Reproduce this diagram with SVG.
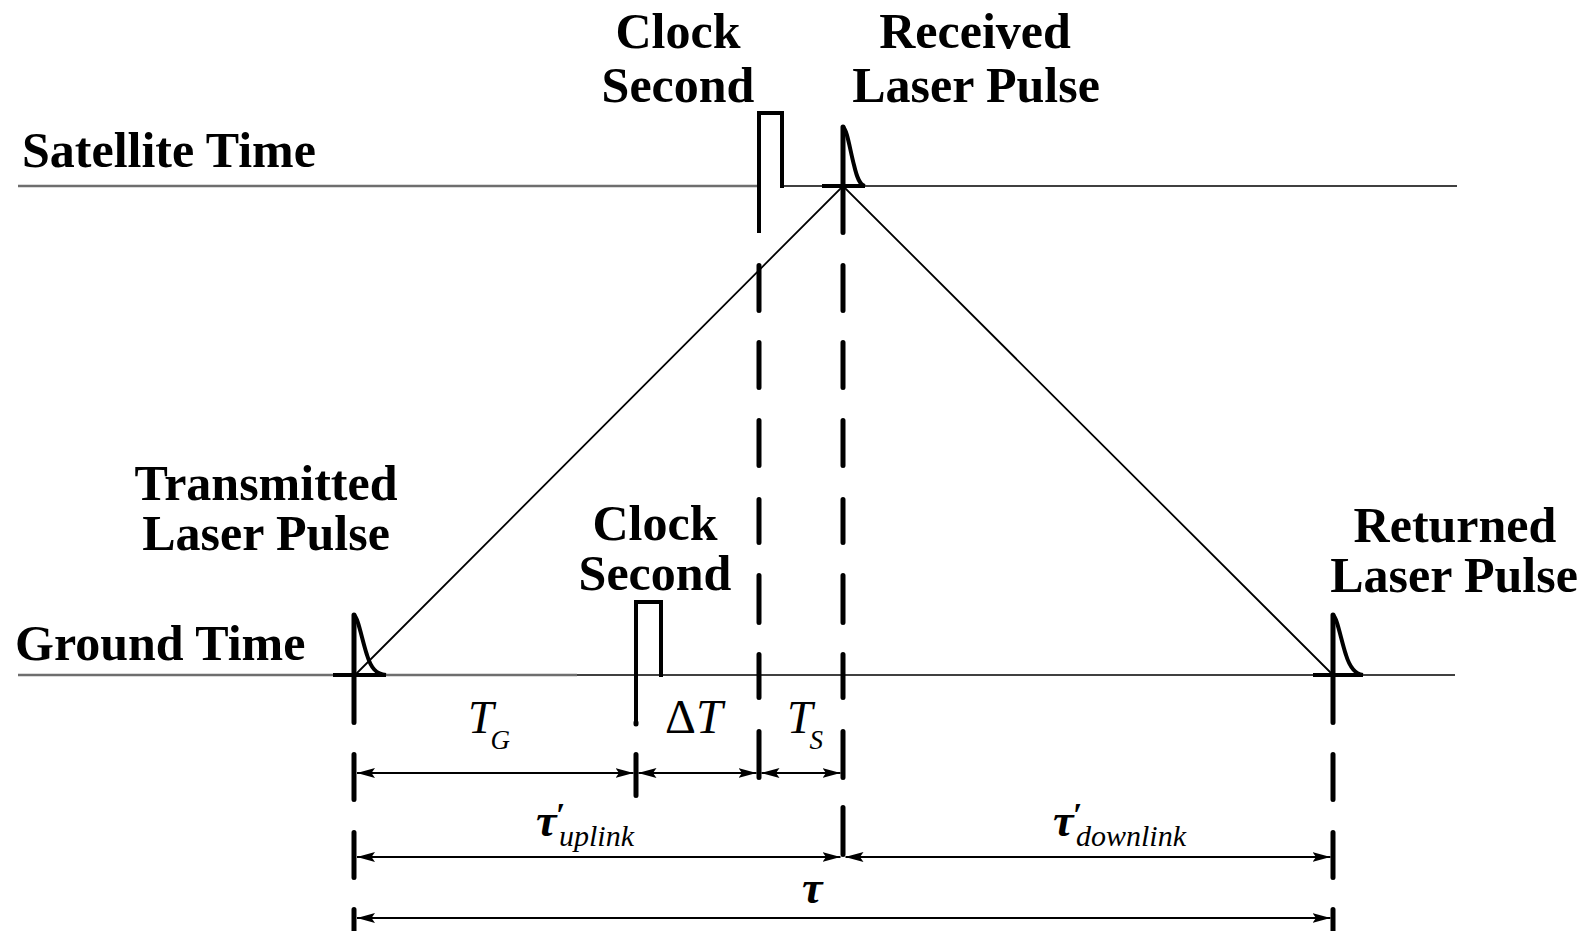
<svg xmlns="http://www.w3.org/2000/svg" width="1590" height="931" viewBox="0 0 1590 931">
<style>
  .lbl { font-family: "Liberation Serif", "Times New Roman", serif; font-weight: bold; font-size: 50px; fill: #000; text-anchor: middle; }
  .lblL { font-family: "Liberation Serif", "Times New Roman", serif; font-weight: bold; font-size: 50px; fill: #000; }
  .math { font-family: "Liberation Serif", "Times New Roman", serif; font-style: italic; fill: #000; }
  .tau { font-weight: bold; }
  .axisGray { stroke: #6e6e6e; stroke-width: 2.6; fill: none; }
  .axis { stroke: #000; stroke-width: 1.6; fill: none; }
  .pulse { stroke: #000; stroke-width: 4; fill: none; stroke-linejoin: miter; }
  .decay { stroke: #000; stroke-width: 4; fill: none; }
  .dash { stroke: #000; stroke-width: 5; fill: none; stroke-linecap: round; }
  .ray { stroke: #000; stroke-width: 1.8; fill: none; }
  .dim { stroke: #000; stroke-width: 2; fill: none; marker-start: url(#arr); marker-end: url(#arr); }
</style>
<defs>
  <marker id="arr" markerWidth="18" markerHeight="10" refX="18" refY="5" orient="auto-start-reverse" markerUnits="userSpaceOnUse">
    <path d="M0,0 L18,5 L0,10 L3.5,5 z" fill="#000"/>
  </marker>
</defs>
<rect width="1590" height="931" fill="#fff"/>

<g id="satellite-timeline">
  <path class="axisGray" d="M18 186 H757"/>
  <path class="axis" d="M782 186 H1457"/>
  <text class="lblL" x="22" y="167">Satellite Time</text>
</g>

<g id="ground-timeline">
  <path class="axisGray" d="M18 675 H577"/>
  <path class="axis" d="M577 675 H1455"/>
  <text class="lblL" x="15" y="660">Ground Time</text>
</g>

<g id="satellite-clock-second">
  <text class="lbl" x="678" y="48">Clock</text>
  <text class="lbl" x="678" y="102">Second</text>
  <path class="pulse" d="M759 233 V113 H782 V188" stroke-width="4.5"/>
  <path class="dash" d="M759 265.5 V310.5 M759 342.5 V387.5 M759 420.5 V465.5 M759 499.5 V542.5 M759 575.5 V622.5 M759 654.5 V697.5 M759 731.5 V777.5"/>
</g>

<g id="received-laser-pulse">
  <text class="lbl" x="975" y="48">Received</text>
  <text class="lbl" x="976" y="102">Laser Pulse</text>
  <path class="pulse" d="M822 186 H865"/>
  <path class="decay" d="M843 127 C847 129, 850 150, 854 165 C857 178, 860 185, 865 186"/>
  <path class="dash" d="M843 127 V232.5 M843 265.5 V310.5 M843 342.5 V387.5 M843 420.5 V465.5 M843 499.5 V542.5 M843 575.5 V622.5 M843 654.5 V697.5 M843 731.5 V777.5 M843 807.5 V854.5"/>
</g>

<g id="transmitted-laser-pulse">
  <text class="lbl" x="266" y="500">Transmitted</text>
  <text class="lbl" x="266" y="550">Laser Pulse</text>
  <path class="pulse" d="M333 675 H386"/>
  <path class="decay" d="M354 615 C358 617, 362 640, 367 655 C371 668, 376 674, 386 675"/>
  <path class="dash" d="M354 615 V722.5 M354 754.5 V799.5 M354 832.5 V877.5 M354 909.5 V931"/>
</g>

<g id="ground-clock-second">
  <text class="lbl" x="655" y="540">Clock</text>
  <text class="lbl" x="655" y="590">Second</text>
  <path class="pulse" d="M636 725 V602 H661 V677" stroke-width="4.5"/>
  <path class="dash" d="M636 722.5 V724 M636 754.5 V795.5"/>
</g>

<g id="returned-laser-pulse">
  <text class="lbl" x="1455" y="542">Returned</text>
  <text class="lbl" x="1454" y="592">Laser Pulse</text>
  <path class="pulse" d="M1313 675 H1363"/>
  <path class="decay" d="M1333 615 C1337 617, 1341 640, 1346 655 C1350 668, 1355 674, 1363 675"/>
  <path class="dash" d="M1333 615 V722.5 M1333 754.5 V799.5 M1333 832.5 V877.5 M1333 909.5 V931"/>
</g>

<g id="connectors">
  <path class="ray" d="M355 675 L843 186 L1333 675"/>
  <line class="dim" x1="357" y1="773" x2="633.5" y2="773"/>
  <line class="dim" x1="638.5" y1="773" x2="756.5" y2="773"/>
  <line class="dim" x1="761.5" y1="773" x2="840.5" y2="773"/>
  <line class="dim" x1="357" y1="857" x2="840.5" y2="857"/>
  <line class="dim" x1="845.5" y1="857" x2="1330.5" y2="857"/>
  <line class="dim" x1="357" y1="918" x2="1330.5" y2="918"/>
</g>

<g id="dimension-labels">
  <text class="math" x="468" y="733" font-size="46">T<tspan font-size="27" dx="-3" dy="16">G</tspan></text>
  <text x="665" y="733" font-size="48" class="math"><tspan font-style="normal">Δ</tspan><tspan>T</tspan></text>
  <text class="math" x="787" y="733" font-size="46">T<tspan font-size="27" dx="-3" dy="16">S</tspan></text>
  <text class="math" x="536" y="836" font-size="46"><tspan class="tau">τ</tspan><tspan class="tau" font-size="34" dx="-1" dy="-10">′</tspan><tspan font-size="30" dx="-6" dy="20">uplink</tspan></text>
  <text class="math" x="1053" y="836" font-size="46"><tspan class="tau">τ</tspan><tspan class="tau" font-size="34" dx="-1" dy="-10">′</tspan><tspan font-size="30" dx="-6" dy="20">downlink</tspan></text>
  <text class="math tau" x="802" y="903" font-size="46">τ</text>
</g>
</svg>
